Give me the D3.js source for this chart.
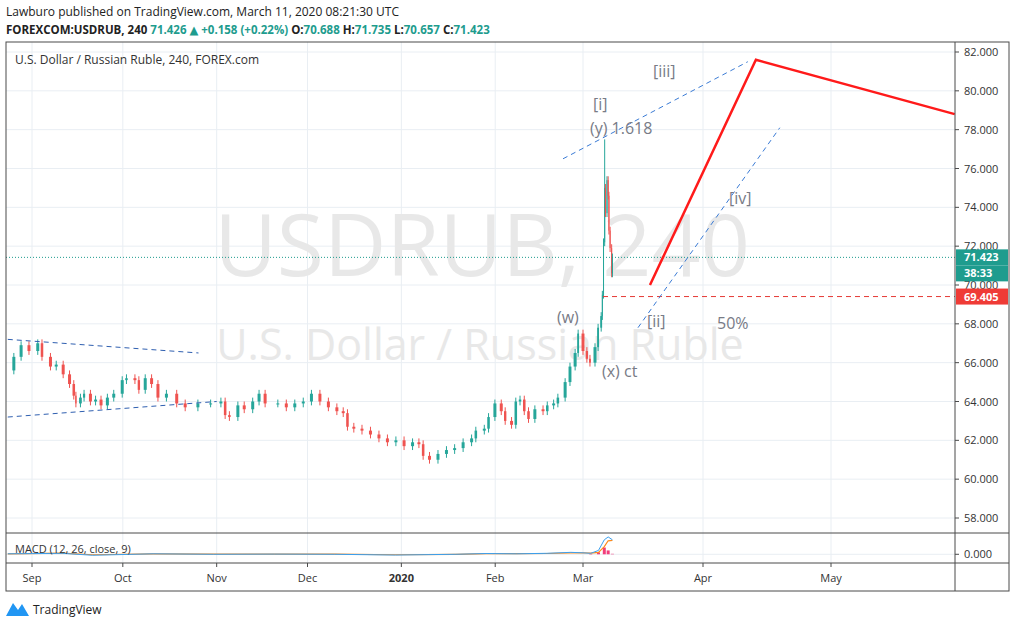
<!DOCTYPE html>
<html>
<head>
<script src="https://d3js.org/d3.v7.min.js"></script>
<style>
  body { margin: 0; background: #fff; font-family: "Open Sans", "DejaVu Sans", sans-serif; }
</style>
</head>
<body>
<svg id="chart" width="1013" height="628"></svg>
<script>
// days since 2019-09-01 and closing prices
const dayOffset = [-8,-6,-3.6,-1,1.9,3.3,6.1,8,10.3,12.4,13.8,14.5,16,17.2,19.3,21,22.8,24.9,27,29.8,31.2,34,35.3,37.4,39.5,41.6,44.4,47.8,50.6,54.8,59,62.4,63.8,65.2,68,70.1,72.9,75,77,81.2,84,86.8,89.6,92.3,95.1,97.9,100.7,102.8,104.2,106.3,109,111.8,114.6,117.4,120.2,122.9,125.7,127.8,129.2,131.3,134.1,136.9,139.6,142.4,145.2,146.6,149.4,150.8,152.9,155,156.3,158.4,159.8,161.2,162.6,164,166.1,168.8,170.2,172.3,173.7,176.1,177.7,179.4,180.4,182,183,183.8,185.1,185.9,186.7,187,187.3,187.6,187.8,188.2,188.5,188.7,189,189.4,189.6];
const close = [65.6,66.3,66.9,66.6,67.0,66.3,65.8,65.9,65.4,64.9,64.3,63.9,64.2,64.4,64.0,64.1,63.8,64.2,64.4,65.1,65.2,65.1,64.6,65.2,64.9,64.2,64.4,63.9,63.7,63.9,63.9,64.0,63.3,63.2,63.8,63.6,64.0,64.4,63.9,63.9,63.7,63.9,64.0,64.4,64.0,63.7,63.5,63.4,62.7,62.6,62.5,62.3,62.1,61.9,62.0,61.7,61.9,61.8,61.2,61.0,61.3,61.5,61.6,61.9,62.1,62.5,62.6,63.2,63.9,63.5,63.0,62.8,64.0,64.1,63.5,63.1,63.6,63.5,63.8,63.9,64.2,65.0,65.8,66.5,67.5,66.6,66.2,66.0,66.8,67.8,68.4,69.5,72.2,75.0,73.7,75.4,74.6,72.8,71.9,70.6,71.42];
const spikeDay = [187.6];
const spikeHigh = [77.5];
const priceTicks = [58,60,62,64,66,68,70,72,74,76,78,80,82];
const monthLabels = ["Sep","Oct","Nov","Dec","2020","Feb","Mar","Apr","May"];
const monthDates = ["2019-09-01","2019-10-01","2019-11-01","2019-12-01","2020-01-01","2020-02-01","2020-03-01","2020-04-01","2020-05-01"];
const lastPrice = 71.423, countdown = "38:33", levelPrice = 69.405;
// MACD
const macdDay = [-8,10,20,40,60,80,100,120,140,150,160,170,178,182,184,186,187.5,188.5,189.6];
const macdLine = [0.05,0.1,-0.1,0.05,0.0,0.02,0.0,-0.08,0.0,0.08,0.05,0.1,0.2,0.15,0.1,0.4,1.5,1.8,1.5];
const signalLine = [0.05,0.12,-0.05,0.04,0.01,0.02,0.01,-0.05,0.0,0.06,0.06,0.08,0.15,0.16,0.13,0.2,0.8,1.4,1.45];

const base = new Date(2019, 8, 1);
const toDate = d => new Date(base.getTime() + d * 864e5);
const svg = d3.select("#chart");
const L = 6, R = 955, T = 42, B = 533, MB = 563, AX = 591, FR = 1009;

const x = d3.scaleTime()
  .domain([new Date(2019,8,1), new Date(2020,2,1), new Date(2020,3,1), new Date(2020,4,1)])
  .range([32, 583, 703, 831]);
const y = d3.scaleLinear().domain([58, 82]).range([518, 52]);
const ym = d3.scaleLinear().domain([-0.8, 2.0]).range([562, 535]);

const grid = "#e9eef3";
svg.append("clipPath").attr("id","pane").append("rect")
  .attr("x", L).attr("y", T).attr("width", R - L).attr("height", B - T);

// gridlines
priceTicks.forEach(p => svg.append("line").attr("x1", L).attr("x2", R)
  .attr("y1", y(p)).attr("y2", y(p)).attr("stroke", grid));
monthDates.forEach(m => {
  const xx = x(new Date(m));
  svg.append("line").attr("x1", xx).attr("x2", xx).attr("y1", T).attr("y2", MB).attr("stroke", grid);
});
svg.append("line").attr("x1", L).attr("x2", R).attr("y1", ym(0)).attr("y2", ym(0)).attr("stroke", grid);

// watermark
svg.append("text").attr("x", 482).attr("y", 276).attr("text-anchor", "middle")
  .attr("font-size", 86).attr("fill", "#e8e8e8").text("USDRUB, 240");
svg.append("text").attr("x", 480).attr("y", 360).attr("text-anchor", "middle")
  .attr("font-size", 43).attr("fill", "#e8e8e8").text("U.S. Dollar / Russian Ruble");

const g = svg.append("g").attr("clip-path", "url(#pane)");

// candles
const up = "#26a69a", dn = "#ef5350";
for (let i = 1; i < close.length; i++) {
  const o = close[i-1], c = close[i];
  const x0 = x(toDate(dayOffset[i-1])), x1 = x(toDate(dayOffset[i]));
  const w = Math.max(1, Math.min(3, (x1 - x0) * 0.6));
  const k = spikeDay.indexOf(dayOffset[i]);
  const hi = k >= 0 ? spikeHigh[k] : Math.max(o, c) + 0.2;
  const lo = Math.min(o, c) - 0.2;
  const col = c >= o ? up : dn;
  g.append("line").attr("x1", x1).attr("x2", x1).attr("y1", y(hi)).attr("y2", y(lo)).attr("stroke", col);
  g.append("rect").attr("x", x1 - w/2).attr("width", w)
    .attr("y", y(Math.max(o, c))).attr("height", Math.max(1, Math.abs(y(o) - y(c)))).attr("fill", col);
}

// horizontal levels
g.append("line").attr("x1", L).attr("x2", R).attr("y1", y(lastPrice)).attr("y2", y(lastPrice))
  .attr("stroke", "#1e9c8e").attr("stroke-dasharray", "1,2");
g.append("line").attr("x1", 603).attr("x2", R).attr("y1", y(levelPrice)).attr("y2", y(levelPrice))
  .attr("stroke", "#e53935").attr("stroke-dasharray", "5,4");

// drawn trendlines (date offset / price anchors)
const trend = [
  [[-8,67.2],[55,66.5],"#2f5fb0"],
  [[-8,63.2],[61,64.0],"#2f5fb0"],
  [[175.4,76.5],[223.5,81.5],"#3a7bd5"],
  [[196.2,67.8],[231,78.1],"#3a7bd5"]
];
trend.forEach(t => g.append("line")
  .attr("x1", x(toDate(t[0][0]))).attr("y1", y(t[0][1]))
  .attr("x2", x(toDate(t[1][0]))).attr("y2", y(t[1][1]))
  .attr("stroke", t[2]).attr("stroke-width", 1)
  .attr("stroke-dasharray", "5,4"));

// wave projection
const wave = [[199.3,70.0],[225.4,81.6],[272,78.8]];
g.append("path").attr("d", d3.line().x(d => x(toDate(d[0]))).y(d => y(d[1]))(wave))
  .attr("fill", "none").attr("stroke", "#ff1a1a").attr("stroke-width", 2.5);

// wave labels
const labs = [["[iii]",653,77],["[i]",593,110],["(y) 1.618",590,134],["[iv]",729,204],
  ["[ii]",647,327],["50%",717,329],["(w)",557,323],["(x) ct",602,377]];
labs.forEach(l => svg.append("text").attr("x", l[1]).attr("y", l[2]).attr("font-size", 16)
  .attr("fill", "#787b86").text(l[0]));

// MACD
const mline = (arr) => d3.line().x((d, i) => x(toDate(macdDay[i]))).y(d => ym(d))(arr);
for (let i = 14; i < macdDay.length; i++) {
  const h = macdLine[i] - signalLine[i];
  svg.append("rect").attr("x", x(toDate(macdDay[i])) - 1.5).attr("width", 3)
    .attr("y", Math.min(ym(0), ym(h))).attr("height", Math.abs(ym(h) - ym(0)))
    .attr("fill", h >= 0 ? "#f23d7a" : "#e0134e");
}
svg.append("path").attr("d", mline(signalLine)).attr("fill", "none").attr("stroke", "#ff8a1a").attr("stroke-width", 1.2);
svg.append("path").attr("d", mline(macdLine)).attr("fill", "none").attr("stroke", "#3aa0f0").attr("stroke-width", 1);

// frame
const frame = "#4a4a4a";
svg.append("rect").attr("x", L).attr("y", T).attr("width", FR - L).attr("height", AX - T)
  .attr("fill", "none").attr("stroke", frame);
[B, MB].forEach(yy => svg.append("line").attr("x1", L).attr("x2", FR).attr("y1", yy).attr("y2", yy).attr("stroke", frame));
svg.append("line").attr("x1", R).attr("x2", R).attr("y1", T).attr("y2", AX).attr("stroke", frame);

// price axis
priceTicks.forEach(p => {
  svg.append("line").attr("x1", R).attr("x2", R + 4).attr("y1", y(p)).attr("y2", y(p)).attr("stroke", frame);
  svg.append("text").attr("x", 964).attr("y", y(p) + 4).attr("font-size", 11).attr("fill", "#333").text(p.toFixed(3));
});
svg.append("line").attr("x1", R).attr("x2", R + 4).attr("y1", ym(0)).attr("y2", ym(0)).attr("stroke", frame);
svg.append("text").attr("x", 964).attr("y", ym(0) + 4).attr("font-size", 11).attr("fill", "#333").text("0.000");

// price tags
const tag = (yy, fill, txt) => {
  svg.append("rect").attr("x", R + 1).attr("y", yy - 8).attr("width", 52).attr("height", 16).attr("fill", fill);
  svg.append("text").attr("x", 964).attr("y", yy + 4).attr("font-size", 11).attr("fill", "#fff").attr("font-weight", "bold").text(txt);
};
tag(y(lastPrice), "#1e9c8e", lastPrice.toFixed(3));
tag(y(lastPrice) + 16, "#1e9c8e", countdown);
tag(y(levelPrice), "#ef3b36", levelPrice.toFixed(3));

// time axis
monthLabels.forEach((m, i) => {
  const xx = x(new Date(monthDates[i]));
  svg.append("line").attr("x1", xx).attr("x2", xx).attr("y1", MB).attr("y2", MB + 4).attr("stroke", frame);
  svg.append("text").attr("x", xx).attr("y", 582).attr("text-anchor", "middle").attr("font-size", 11)
    .attr("fill", "#333").attr("font-weight", m === "2020" ? "bold" : "normal").text(m);
});

// pane labels
svg.append("text").attr("x", 15).attr("y", 64).attr("font-size", 12).attr("fill", "#333")
  .text("U.S. Dollar / Russian Ruble, 240, FOREX.com");
svg.append("text").attr("x", 15).attr("y", 553).attr("font-size", 11).attr("fill", "#333")
  .text("MACD (12, 26, close, 9)");

// header
svg.append("text").attr("x", 6).attr("y", 16).attr("font-size", 12).attr("fill", "#222")
  .text("Lawburo published on TradingView.com, March 11, 2020 08:21:30 UTC");
const hdr = svg.append("text").attr("x", 6).attr("y", 34).attr("font-size", 11.5).attr("font-weight", "bold").attr("fill", "#222");
hdr.append("tspan").text("FOREXCOM:USDRUB, 240  ");
hdr.append("tspan").attr("fill", "#1e9c8e").text("71.426 ▲ +0.158 (+0.22%) ");
[["O:","70.688"],["H:","71.735"],["L:","70.657"],["C:","71.423"]].forEach(p => {
  hdr.append("tspan").attr("fill", "#222").text(p[0]);
  hdr.append("tspan").attr("fill", "#1e9c8e").text(p[1] + " ");
});

// footer logo
svg.append("path").attr("d", "M6,616 L13,603 L18,610 L22,604 L29,616 Z").attr("fill", "#2196f3");
svg.append("text").attr("x", 33).attr("y", 614).attr("font-size", 12).attr("fill", "#222").text("TradingView");
</script>
</body>
</html>
